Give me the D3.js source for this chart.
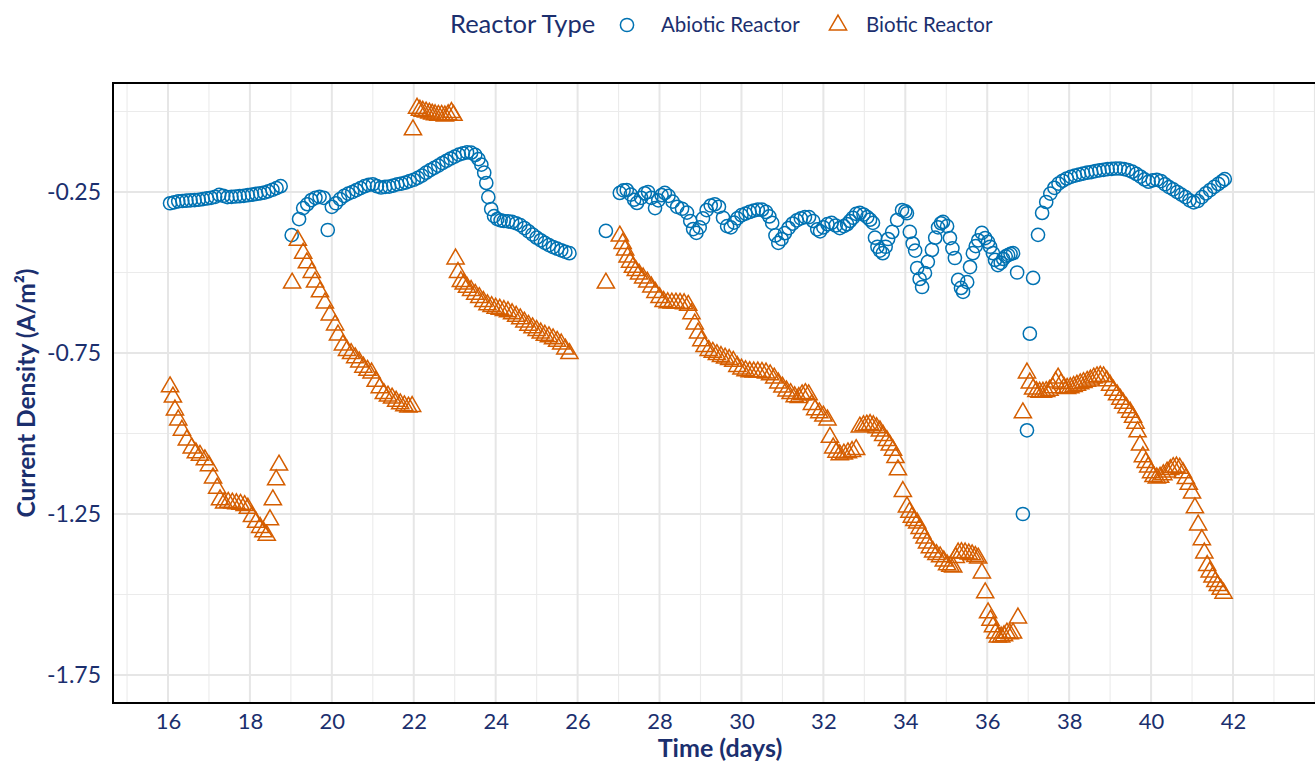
<!DOCTYPE html>
<html>
<head>
<meta charset="utf-8">
<script src="https://cdn.jsdelivr.net/npm/d3@7"></script>
<style>
  html, body { margin: 0; padding: 0; background: #ffffff; }
  svg { display: block; }
  text { font-family: Lato, "Open Sans", sans-serif; }
</style>
</head>
<body>
<svg id="chart" width="1315" height="765"></svg>
<script>
// ---------------- data ----------------
const legendTitle = "Reactor Type";
const seriesNames = ["Abiotic Reactor", "Biotic Reactor"];
const xTickValues = [16, 18, 20, 22, 24, 26, 28, 30, 32, 34, 36, 38, 40, 42];
const yTickValues = [-0.25, -0.75, -1.25, -1.75];
const yTickLabels = ["-0.25", "-0.75", "-1.25", "-1.75"];
const xTitle = "Time (days)";
const yTitle = "Current Density (A/m\u00B2)";

// [time (days), current density (A/m²)]
const abioticPoints = [
  [16.05,-0.285],[16.15,-0.282],[16.25,-0.279],[16.35,-0.278],[16.45,-0.277],[16.55,-0.276],[16.65,-0.275],[16.75,-0.274],[16.85,-0.272],[16.95,-0.270],
  [17.05,-0.268],[17.15,-0.265],[17.25,-0.259],[17.35,-0.262],[17.45,-0.266],[17.55,-0.265],[17.65,-0.264],[17.75,-0.263],[17.85,-0.262],[17.95,-0.260],
  [18.05,-0.258],[18.15,-0.256],[18.25,-0.254],[18.35,-0.252],[18.45,-0.248],[18.55,-0.243],[18.65,-0.238],[18.75,-0.232],
  [19.02,-0.384],[19.2,-0.334],[19.3,-0.300],[19.4,-0.288],[19.5,-0.275],[19.6,-0.268],[19.7,-0.265],[19.8,-0.268],[19.9,-0.368],[20.0,-0.296],
  [20.1,-0.285],[20.2,-0.272],[20.3,-0.262],[20.4,-0.255],[20.5,-0.250],[20.6,-0.244],[20.7,-0.238],[20.8,-0.232],[20.9,-0.228],[21.0,-0.226],
  [21.1,-0.232],[21.2,-0.236],[21.3,-0.234],[21.4,-0.233],[21.5,-0.230],[21.6,-0.226],[21.7,-0.224],[21.8,-0.221],[21.9,-0.216],[22.0,-0.212],
  [22.1,-0.206],[22.2,-0.199],[22.3,-0.190],[22.4,-0.182],[22.5,-0.175],[22.6,-0.168],[22.7,-0.160],[22.8,-0.153],[22.9,-0.146],[23.0,-0.140],
  [23.1,-0.134],[23.2,-0.130],[23.3,-0.127],[23.4,-0.128],[23.5,-0.135],[23.58,-0.148],[23.65,-0.165],[23.72,-0.190],[23.77,-0.222],[23.82,-0.266],
  [23.89,-0.303],[23.96,-0.325],[24.04,-0.334],[24.12,-0.338],[24.2,-0.340],[24.3,-0.341],[24.4,-0.343],[24.5,-0.347],[24.6,-0.353],[24.7,-0.362],
  [24.8,-0.372],[24.9,-0.382],[25.0,-0.392],[25.1,-0.400],[25.2,-0.408],[25.3,-0.415],[25.4,-0.421],[25.5,-0.426],[25.6,-0.431],[25.7,-0.436],[25.8,-0.440],
  [26.69,-0.371],[27.03,-0.253],[27.12,-0.245],[27.2,-0.244],[27.3,-0.258],[27.38,-0.274],[27.45,-0.284],[27.55,-0.268],[27.64,-0.254],[27.72,-0.250],
  [27.8,-0.268],[27.89,-0.300],[27.97,-0.276],[28.05,-0.260],[28.13,-0.253],[28.22,-0.262],[28.32,-0.280],[28.43,-0.296],[28.55,-0.302],[28.67,-0.314],
  [28.75,-0.340],[28.82,-0.365],[28.9,-0.377],[28.98,-0.360],[29.06,-0.332],[29.15,-0.306],[29.25,-0.292],[29.35,-0.288],[29.45,-0.296],[29.55,-0.330],
  [29.65,-0.356],[29.74,-0.360],[29.82,-0.345],[29.9,-0.332],[30.0,-0.322],[30.1,-0.317],[30.2,-0.312],[30.3,-0.308],[30.4,-0.305],[30.5,-0.305],
  [30.6,-0.312],[30.68,-0.326],[30.75,-0.346],[30.83,-0.385],[30.9,-0.408],[30.98,-0.396],[31.06,-0.378],[31.15,-0.362],[31.25,-0.348],[31.35,-0.338],
  [31.45,-0.332],[31.55,-0.328],[31.65,-0.328],[31.75,-0.340],[31.85,-0.366],[31.92,-0.372],[32.0,-0.360],[32.1,-0.350],[32.2,-0.346],[32.3,-0.354],
  [32.4,-0.362],[32.5,-0.356],[32.58,-0.350],[32.65,-0.340],[32.72,-0.330],[32.8,-0.318],[32.89,-0.315],[32.98,-0.320],[33.07,-0.328],[33.14,-0.336],
  [33.21,-0.346],[33.26,-0.392],[33.32,-0.420],[33.38,-0.432],[33.45,-0.440],[33.52,-0.420],[33.58,-0.396],[33.68,-0.374],[33.8,-0.337],[33.92,-0.306],
  [34.0,-0.310],[34.04,-0.316],[34.11,-0.374],[34.18,-0.410],[34.24,-0.432],[34.29,-0.486],[34.35,-0.520],[34.41,-0.545],[34.48,-0.502],[34.55,-0.467],
  [34.65,-0.430],[34.73,-0.392],[34.8,-0.360],[34.87,-0.347],[34.92,-0.343],[35.02,-0.356],[35.09,-0.393],[35.15,-0.425],[35.21,-0.455],[35.29,-0.523],
  [35.36,-0.548],[35.41,-0.560],[35.51,-0.530],[35.58,-0.483],[35.65,-0.440],[35.72,-0.418],[35.78,-0.400],[35.87,-0.377],[35.95,-0.393],[36.02,-0.405],
  [36.07,-0.420],[36.14,-0.440],[36.19,-0.461],[36.26,-0.477],[36.33,-0.470],[36.39,-0.458],[36.45,-0.450],[36.51,-0.446],[36.57,-0.442],[36.63,-0.440],
  [36.73,-0.500],[36.87,-1.250],[36.97,-0.990],[37.04,-0.690],[37.12,-0.517],
  [37.24,-0.383],[37.34,-0.315],[37.44,-0.281],[37.54,-0.255],[37.64,-0.237],[37.74,-0.224],[37.84,-0.215],[37.94,-0.208],[38.04,-0.203],[38.14,-0.199],
  [38.24,-0.196],[38.34,-0.193],[38.44,-0.190],[38.54,-0.188],[38.64,-0.185],[38.74,-0.183],[38.84,-0.181],[38.94,-0.179],[39.04,-0.178],[39.14,-0.177],
  [39.24,-0.177],[39.34,-0.179],[39.44,-0.182],[39.54,-0.187],[39.64,-0.194],[39.74,-0.202],[39.84,-0.211],[39.94,-0.218],[40.04,-0.214],[40.14,-0.212],
  [40.24,-0.216],[40.34,-0.226],[40.44,-0.235],[40.54,-0.242],[40.64,-0.250],[40.74,-0.258],[40.84,-0.266],[40.94,-0.276],[41.04,-0.282],[41.14,-0.278],
  [41.24,-0.266],[41.34,-0.254],[41.44,-0.244],[41.54,-0.234],[41.64,-0.225],[41.74,-0.216],[41.8,-0.210]
];

const bioticPoints = [
  [16.05,-0.855],[16.12,-0.887],[16.17,-0.927],[16.25,-0.958],[16.34,-0.990],[16.46,-1.020],[16.58,-1.045],[16.68,-1.060],[16.78,-1.068],[16.9,-1.082],
  [17.0,-1.100],[17.1,-1.138],[17.2,-1.170],[17.27,-1.206],[17.37,-1.216],[17.47,-1.214],[17.57,-1.216],[17.67,-1.218],[17.77,-1.220],[17.87,-1.224],
  [17.95,-1.232],[18.05,-1.258],[18.15,-1.276],[18.25,-1.292],[18.33,-1.305],[18.41,-1.316],[18.49,-1.268],[18.56,-1.206],[18.64,-1.144],[18.71,-1.098],
  [19.03,-0.533],[19.17,-0.400],[19.3,-0.440],[19.39,-0.470],[19.51,-0.500],[19.59,-0.530],[19.71,-0.560],[19.83,-0.595],[19.95,-0.632],[20.08,-0.663],
  [20.15,-0.694],[20.27,-0.725],[20.37,-0.742],[20.47,-0.752],[20.57,-0.765],[20.67,-0.778],[20.77,-0.794],[20.87,-0.804],[20.97,-0.812],[21.07,-0.838],
  [21.17,-0.858],[21.27,-0.876],[21.37,-0.884],[21.47,-0.890],[21.57,-0.900],[21.67,-0.908],[21.77,-0.914],[21.87,-0.918],[21.96,-0.916],
  [21.98,-0.057],[22.08,0.010],[22.15,0.004],[22.22,0.001],[22.3,-0.002],[22.38,-0.005],[22.45,-0.008],[22.52,-0.010],[22.6,-0.012],[22.68,-0.012],
  [22.76,-0.014],[22.84,-0.010],[22.92,-0.003],[22.97,-0.012],
  [23.02,-0.458],[23.08,-0.500],[23.15,-0.528],[23.22,-0.536],[23.3,-0.546],[23.4,-0.556],[23.5,-0.568],[23.6,-0.578],[23.7,-0.590],[23.8,-0.600],
  [23.9,-0.606],[24.0,-0.611],[24.1,-0.614],[24.2,-0.618],[24.3,-0.622],[24.4,-0.628],[24.5,-0.636],[24.6,-0.644],[24.7,-0.654],[24.8,-0.664],
  [24.9,-0.672],[25.0,-0.680],[25.1,-0.688],[25.2,-0.695],[25.3,-0.700],[25.4,-0.706],[25.5,-0.714],[25.6,-0.722],[25.7,-0.738],[25.8,-0.752],
  [26.69,-0.533],[27.03,-0.387],[27.1,-0.410],[27.16,-0.430],[27.22,-0.452],[27.28,-0.468],[27.35,-0.484],[27.42,-0.494],[27.5,-0.505],[27.6,-0.517],
  [27.7,-0.530],[27.8,-0.545],[27.9,-0.562],[28.0,-0.578],[28.1,-0.590],[28.2,-0.594],[28.3,-0.595],[28.4,-0.595],[28.5,-0.596],[28.6,-0.597],
  [28.7,-0.602],[28.78,-0.628],[28.86,-0.660],[28.94,-0.688],[29.02,-0.712],[29.1,-0.730],[29.2,-0.742],[29.3,-0.748],[29.4,-0.755],[29.5,-0.761],
  [29.6,-0.766],[29.7,-0.770],[29.8,-0.776],[29.9,-0.792],[30.0,-0.800],[30.1,-0.805],[30.2,-0.808],[30.3,-0.809],[30.4,-0.809],[30.5,-0.810],
  [30.6,-0.812],[30.7,-0.818],[30.8,-0.828],[30.9,-0.843],[31.0,-0.856],[31.1,-0.868],[31.2,-0.876],[31.3,-0.886],[31.4,-0.888],[31.48,-0.880],
  [31.56,-0.876],[31.64,-0.880],[31.72,-0.910],[31.8,-0.926],[31.9,-0.936],[32.0,-0.946],[32.1,-0.958],[32.16,-1.012],[32.24,-1.045],[32.32,-1.058],
  [32.4,-1.066],[32.5,-1.064],[32.6,-1.060],[32.7,-1.056],[32.8,-1.050],[32.89,-0.980],[32.98,-0.976],[33.06,-0.974],[33.14,-0.972],[33.22,-0.976],
  [33.3,-0.982],[33.38,-0.992],[33.46,-1.006],[33.55,-1.022],[33.62,-1.036],[33.7,-1.052],[33.76,-1.075],[33.82,-1.113],[33.94,-1.180],[34.04,-1.228],
  [34.1,-1.245],[34.16,-1.260],[34.22,-1.270],[34.29,-1.278],[34.35,-1.295],[34.41,-1.309],[34.47,-1.325],[34.53,-1.340],[34.6,-1.355],[34.68,-1.368],
  [34.76,-1.376],[34.85,-1.383],[34.94,-1.396],[35.02,-1.408],[35.1,-1.412],[35.17,-1.415],[35.23,-1.385],[35.29,-1.371],[35.37,-1.370],[35.46,-1.371],
  [35.55,-1.374],[35.63,-1.377],[35.71,-1.382],[35.78,-1.387],[35.87,-1.433],[35.95,-1.495],[36.02,-1.557],[36.08,-1.580],[36.14,-1.600],[36.2,-1.620],
  [36.26,-1.632],[36.34,-1.632],[36.41,-1.628],[36.48,-1.620],[36.55,-1.622],[36.63,-1.620],[36.75,-1.573],
  [36.87,-0.936],[36.97,-0.812],[37.04,-0.843],[37.12,-0.862],[37.2,-0.870],[37.28,-0.872],[37.36,-0.872],[37.44,-0.870],[37.52,-0.866],[37.6,-0.858],
  [37.67,-0.840],[37.73,-0.828],[37.8,-0.845],[37.88,-0.858],[37.95,-0.860],[38.03,-0.858],[38.11,-0.854],[38.19,-0.850],[38.27,-0.846],[38.35,-0.842],
  [38.44,-0.838],[38.52,-0.834],[38.6,-0.828],[38.68,-0.824],[38.76,-0.822],[38.84,-0.824],[38.92,-0.836],[39.0,-0.850],[39.08,-0.866],[39.17,-0.880],
  [39.25,-0.894],[39.32,-0.906],[39.4,-0.920],[39.49,-0.934],[39.56,-0.950],[39.62,-0.968],[39.67,-0.995],[39.73,-1.036],[39.8,-1.072],[39.87,-1.090],
  [39.93,-1.104],[40.0,-1.122],[40.06,-1.134],[40.14,-1.138],[40.22,-1.136],[40.3,-1.128],[40.39,-1.120],[40.47,-1.112],[40.54,-1.106],[40.62,-1.104],
  [40.7,-1.108],[40.78,-1.122],[40.85,-1.140],[40.92,-1.158],[41.0,-1.185],[41.07,-1.231],[41.15,-1.284],[41.24,-1.330],[41.3,-1.371],[41.37,-1.410],
  [41.43,-1.430],[41.5,-1.446],[41.57,-1.460],[41.63,-1.472],[41.7,-1.484],[41.77,-1.496]
];

// ---------------- drawing ----------------
const svg = d3.select("#chart");
const textColor = "#1b2f6e";
const colors = ["#0072B2", "#D55E00"];
const panel = { left: 113, right: 1318, top: 83, bottom: 703 };

const x = d3.scaleLinear().domain([16, 42]).range([168, 1233]);
const y = d3.scaleLinear().domain([-0.25, -1.75]).range([192, 675]);

const xMin = x.invert(panel.left), xMax = x.invert(panel.right);
const yMax = y.invert(panel.top), yMin = y.invert(panel.bottom);

const grid = svg.append("g");
// minor grid
const xMinor = d3.range(Math.ceil(xMin), Math.floor(xMax) + 1).filter(v => v % 2 !== 0);
const yMinor = d3.range(Math.ceil(yMin / 0.5) * 0.5, yMax + 1e-9, 0.5);
grid.selectAll(".xminor").data(xMinor).join("line")
  .attr("x1", d => x(d)).attr("x2", d => x(d))
  .attr("y1", panel.top).attr("y2", panel.bottom)
  .attr("stroke", "#ebebeb").attr("stroke-width", 1.1);
grid.selectAll(".yminor").data(yMinor).join("line")
  .attr("x1", panel.left).attr("x2", panel.right)
  .attr("y1", d => y(d)).attr("y2", d => y(d))
  .attr("stroke", "#ebebeb").attr("stroke-width", 1.1);
// major grid
const xMajor = d3.range(Math.ceil(xMin / 2) * 2, xMax + 1e-9, 2);
grid.selectAll(".xmajor").data(xMajor).join("line")
  .attr("x1", d => x(d)).attr("x2", d => x(d))
  .attr("y1", panel.top).attr("y2", panel.bottom)
  .attr("stroke", "#e6e6e6").attr("stroke-width", 2);
grid.selectAll(".ymajor").data(yTickValues).join("line")
  .attr("x1", panel.left).attr("x2", panel.right)
  .attr("y1", d => y(d)).attr("y2", d => y(d))
  .attr("stroke", "#e6e6e6").attr("stroke-width", 2);

// points
const triangle = d3.symbol().type(d3.symbolTriangle).size(128);
const pts = svg.append("g");
pts.selectAll("circle").data(abioticPoints).join("circle")
  .attr("cx", d => x(d[0])).attr("cy", d => y(d[1])).attr("r", 6.6)
  .attr("fill", "none").attr("stroke", colors[0]).attr("stroke-width", 1.5);
pts.selectAll("path").data(bioticPoints).join("path")
  .attr("d", triangle)
  .attr("transform", d => `translate(${x(d[0])},${y(d[1])})`)
  .attr("fill", "none").attr("stroke", colors[1]).attr("stroke-width", 1.5);

// panel border
svg.append("rect")
  .attr("x", panel.left).attr("y", panel.top)
  .attr("width", panel.right - panel.left).attr("height", panel.bottom - panel.top)
  .attr("fill", "none").attr("stroke", "#000").attr("stroke-width", 2);

// axes (labels only, no tick marks)
const xAxis = d3.axisBottom(x).tickValues(xTickValues).tickSize(0).tickPadding(0).tickFormat(d3.format("d"));
const gx = svg.append("g").attr("transform", `translate(0,${panel.bottom + 10})`).call(xAxis);
gx.select(".domain").remove();
gx.selectAll("text").attr("dy", "0.71em").attr("fill", textColor).style("font-size", "22px").style("font-family", "Lato");

const yAxis = d3.axisLeft(y).tickValues(yTickValues).tickSize(0).tickPadding(0)
  .tickFormat((d, i) => yTickLabels[i]);
const gy = svg.append("g").attr("transform", `translate(101,0)`).call(yAxis);
gy.select(".domain").remove();
gy.selectAll("text").attr("fill", textColor).style("font-size", "23px").style("font-family", "Lato");

// axis titles
svg.append("text").text(xTitle)
  .attr("x", 720).attr("y", 757)
  .attr("text-anchor", "middle").attr("fill", textColor)
  .style("font-size", "25px").style("font-weight", "bold");
svg.append("text").text(yTitle)
  .attr("transform", `translate(35,${(panel.top + panel.bottom) / 2}) rotate(-90)`)
  .attr("text-anchor", "middle").attr("fill", textColor)
  .style("font-size", "24.5px").style("font-weight", "bold");

// legend
const lg = svg.append("g");
lg.append("text").text(legendTitle).attr("x", 450).attr("y", 33)
  .attr("fill", textColor).style("font-size", "25.5px");
lg.append("circle").attr("cx", 627).attr("cy", 25).attr("r", 6.6)
  .attr("fill", "none").attr("stroke", colors[0]).attr("stroke-width", 1.5);
lg.append("text").text(seriesNames[0]).attr("x", 661).attr("y", 32)
  .attr("fill", textColor).style("font-size", "20.5px");
lg.append("path").attr("d", triangle).attr("transform", "translate(838,25)")
  .attr("fill", "none").attr("stroke", colors[1]).attr("stroke-width", 1.5);
lg.append("text").text(seriesNames[1]).attr("x", 866).attr("y", 32)
  .attr("fill", textColor).style("font-size", "20.5px");
</script>
</body>
</html>
